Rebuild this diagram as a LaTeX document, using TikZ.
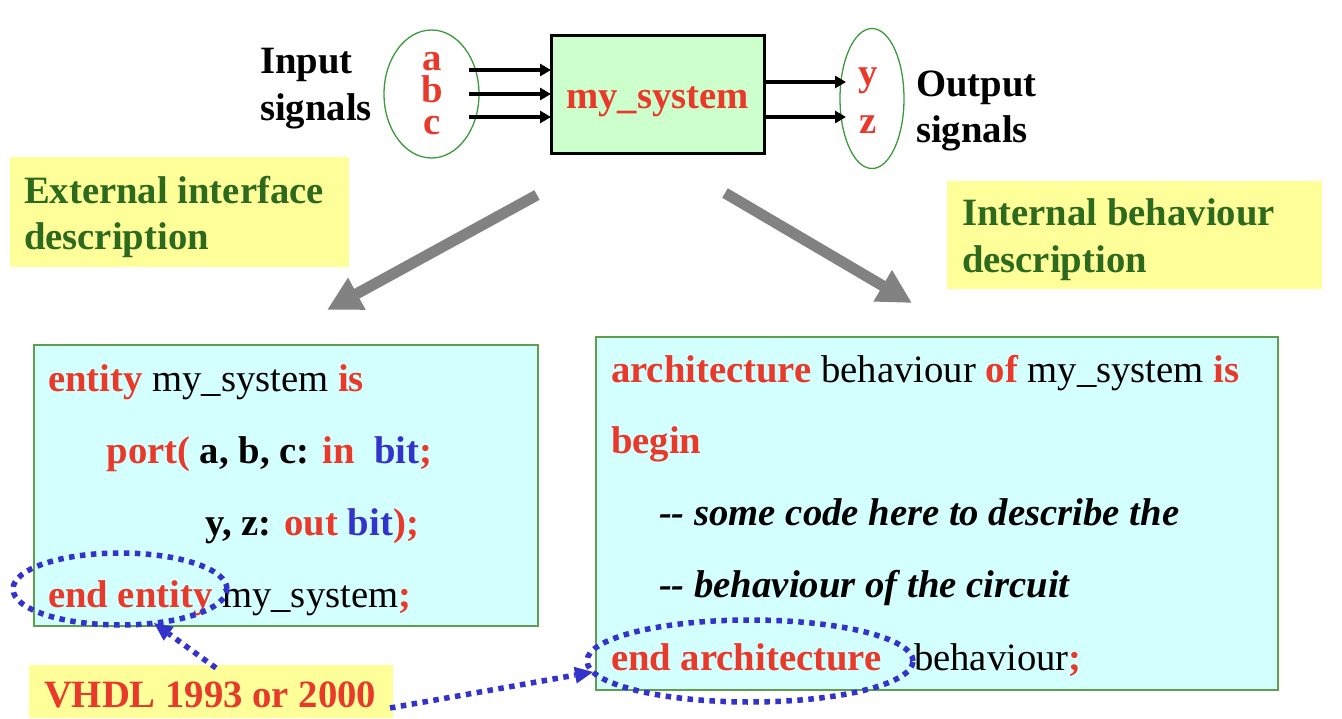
\documentclass[tikz,border=0pt]{standalone}
\usepackage{fontspec}
\setmainfont{Liberation Serif}
\usetikzlibrary{arrows.meta,shapes.geometric}
\definecolor{kred}{HTML}{E8392A}
\definecolor{kblue}{HTML}{3333CC}
\definecolor{dgreen}{HTML}{2D6A1E}
\definecolor{lyellow}{HTML}{FFFF99}
\definecolor{lcyan}{HTML}{D4FFFF}
\definecolor{bgreen}{HTML}{5E9E4E}
\definecolor{lgreen}{HTML}{CCFFCC}
\definecolor{egreen}{HTML}{3C9A3C}
\definecolor{dotblue}{HTML}{3333CC}
\newcommand{\redkw}[1]{{\bfseries\color{kred}#1}}
\newcommand{\bluekw}[1]{{\bfseries\color{kblue}#1}}
\newcommand{\bigfont}{\fontsize{38.7}{47}\selectfont}
\tikzset{
  every node/.style={inner sep=0pt, outer sep=0pt},
  txt/.style={anchor=base west, font=\bigfont},
  ctxt/.style={anchor=base, font=\bigfont},
  sigtxt/.style={anchor=base, font=\bigfont\bfseries, text=kred},
  ybox/.style={fill=lyellow, anchor=north west},
  codebox/.style={fill=lcyan, draw=bgreen, line width=1.5pt, anchor=north west},
  sigell/.style={ellipse, draw=egreen, line width=1.3pt},
  sig/.style={line width=3.5pt, -{Triangle[length=11pt,width=12pt]}},
  bigarrow/.style={line width=11pt, draw=gray!98, -{Triangle[length=34pt,width=34pt]}},
  dotell/.style={ellipse, draw=dotblue, line width=5.5pt, dash pattern=on 5.5pt off 5.5pt},
  dotarrow/.style={draw=dotblue, line width=5.5pt, dash pattern=on 5.5pt off 5.5pt,
    -{Triangle[length=18pt,width=17pt,line width=0pt]}},
}
\begin{document}
\begin{tikzpicture}[x=1pt,y=-1pt]
\useasboundingbox (0,0) rectangle (1342,718);

% yellow label boxes
\node[ybox, minimum width=339pt, minimum height=110pt] (extbox) at (10,157) {};
\node[ybox, minimum width=375pt, minimum height=108pt] (intbox) at (947,181) {};
\node[ybox, minimum width=364pt, minimum height=53pt] (vhdlbox) at (29,665) {};

\node[txt, text=dgreen, font=\bigfont\bfseries] (ext1) at (24,203) {External interface};
\node[txt, text=dgreen, font=\bigfont\bfseries] (ext2) at (24,249) {description};
\node[txt, text=dgreen, font=\bigfont\bfseries] (int1) at (962,225) {Internal behaviour};
\node[txt, text=dgreen, font=\bigfont\bfseries] (int2) at (962,272) {description};
\node[txt, text=kred, font=\bigfont\bfseries] (vhdl) at (44,707) {VHDL 1993 or 2000};

% top system
\node[sigell, minimum width=95pt, minimum height=128pt] (inell) at (431.5,94) {};
\node[sigell, minimum width=64pt, minimum height=140pt] (outell) at (872,98.5) {};
\node[draw, line width=3pt, fill=lgreen, minimum width=213pt, minimum height=118pt, anchor=north west] (sys) at (551,35) {};
\node[ctxt, text=kred, font=\bigfont\bfseries] (systxt) at (657.5,108) {my\_system};

\node[txt, font=\bigfont\bfseries] (in1) at (260,73) {Input};
\node[txt, font=\bigfont\bfseries] (in2) at (260,120) {signals};
\node[txt, font=\bigfont\bfseries] (out1) at (916,96) {Output};
\node[txt, font=\bigfont\bfseries] (out2) at (916,142) {signals};

\node[anchor=center, align=center, text=kred, font=\fontsize{38.7}{32}\selectfont\bfseries] (sabc) at (432,94) {a\\b\\c};
\node[sigtxt] (sy) at (868,85) {y};
\node[sigtxt] (sz) at (868,133) {z};

\coordinate (ia) at (469,70);
\coordinate (ib) at (469,94);
\coordinate (ic) at (469,117);
\coordinate (oy) at (846,82);
\coordinate (oz) at (846,117);
\draw[sig] (ia) -- (ia -| sys.west);
\draw[sig] (ib) -- (ib -| sys.west);
\draw[sig] (ic) -- (ic -| sys.west);
\draw[sig] (oy -| sys.east) -- (oy);
\draw[sig] (oz -| sys.east) -- (oz);

% big gray arrows
\coordinate (g1a) at (537,195);
\coordinate (g1b) at (327,310);
\coordinate (g2a) at (725,193);
\coordinate (g2b) at (912,303);
\draw[bigarrow] (g1a) -- (g1b);
\draw[bigarrow] (g2a) -- (g2b);

% code boxes
\node[codebox, minimum width=504pt, minimum height=281pt] (entbox) at (34,345) {};
\node[codebox, minimum width=682pt, minimum height=353pt] (archbox) at (596,337) {};

\node[txt] (l1) at (48,391) {\redkw{entity} my\_system \redkw{is}};
\node[txt] (l2) at (106.5,463) {\redkw{port(} \textbf{a, b, c:} \redkw{in}\ \ \bluekw{bit}\redkw{;}};
\node[txt] (l3) at (205,535) {\textbf{y, z:} \redkw{out} \bluekw{bit}\redkw{);}};
\node[txt] (l4) at (48,607) {\redkw{end entity} my\_system\redkw{;}};

\node[txt] (r1) at (611,382) {\redkw{architecture} behaviour \redkw{of} my\_system \redkw{is}};
\node[txt] (r2) at (611,453) {\redkw{begin}};
\node[txt, font=\bigfont\bfseries\itshape] (r3) at (659,525) {-{}- some code here to describe the};
\node[txt, font=\bigfont\bfseries\itshape] (r4) at (659,597) {-{}- behaviour of the circuit};
\node[txt] (r5) at (611,670) {\redkw{end architecture}};
\node[txt] (r6) at (914,670) {behaviour\redkw{;}};

% dotted ellipses and arrows
\node[dotell, minimum width=214pt, minimum height=72pt] (e1) at (120,589) {};
\node[dotell, minimum width=326pt, minimum height=82pt] (e2) at (750,661) {};
\coordinate (d1) at (216,668);
\coordinate (d2) at (390,708);
\draw[dotarrow] (d1) -- (e1.-45);
\draw[dotarrow] (d2) -- (e2.184);
\end{tikzpicture}
\end{document}
